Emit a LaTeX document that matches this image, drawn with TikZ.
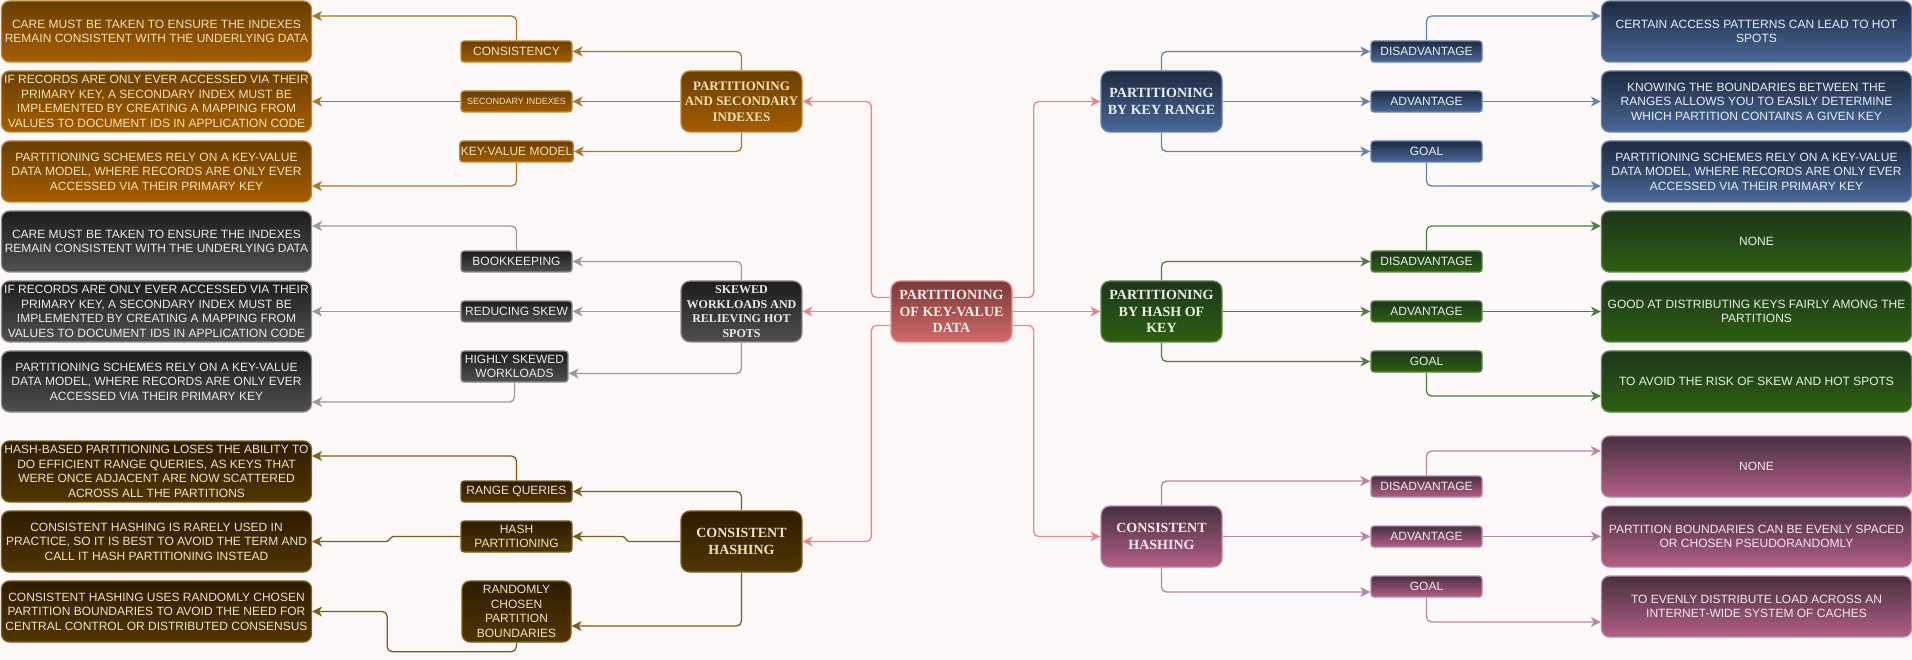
\documentclass[tikz,border=0pt]{standalone}
\usepackage{fontspec}
\setmainfont{Liberation Serif}
\setsansfont{Liberation Sans}
\usetikzlibrary{arrows.meta}
\usetikzlibrary{calc}
\definecolor{paper}{HTML}{FCF8F7}
\definecolor{redT}{HTML}{7A3838}\definecolor{redB}{HTML}{D26A6A}\definecolor{redE}{HTML}{E39090}\definecolor{redX}{HTML}{F8EEEE}\definecolor{redL}{HTML}{E08A8A}
\definecolor{brnT}{HTML}{693E00}\definecolor{brnB}{HTML}{A65D00}\definecolor{brnE}{HTML}{B98B38}\definecolor{brnX}{HTML}{F2E3B8}\definecolor{brnL}{HTML}{A8772A}
\definecolor{gryT}{HTML}{1C1C1C}\definecolor{gryB}{HTML}{505050}\definecolor{gryE}{HTML}{8E8E8E}\definecolor{gryX}{HTML}{EBEBEB}\definecolor{gryL}{HTML}{9A9A9A}
\definecolor{dkbT}{HTML}{2D1C00}\definecolor{dkbB}{HTML}{523600}\definecolor{dkbE}{HTML}{806218}\definecolor{dkbX}{HTML}{EEE4C4}\definecolor{dkbL}{HTML}{7A5E1A}
\definecolor{bluT}{HTML}{1E2A40}\definecolor{bluB}{HTML}{4A6898}\definecolor{bluE}{HTML}{6283B3}\definecolor{bluX}{HTML}{E9EEF6}\definecolor{bluL}{HTML}{6283B0}
\definecolor{grnT}{HTML}{1E351C}\definecolor{grnB}{HTML}{2C6010}\definecolor{grnE}{HTML}{5C8A48}\definecolor{grnX}{HTML}{E9F0E4}\definecolor{grnL}{HTML}{4F7F3F}
\definecolor{plmT}{HTML}{463040}\definecolor{plmB}{HTML}{B45E88}\definecolor{plmE}{HTML}{B889A8}\definecolor{plmX}{HTML}{F4E8EE}\definecolor{plmL}{HTML}{B485A5}
\tikzset{tint/.style={top color=#1T,bottom color=#1B,draw=#1E,text=#1X},
root/.style={rounded corners=9pt,line width=1.3pt,minimum width=121pt,minimum height=61pt,
align=center,inner sep=1pt,font=\rmfamily\bfseries\fontsize{14}{16.7}\selectfont},
tag/.style={rounded corners=3pt,line width=1.3pt,minimum width=111pt,minimum height=21pt,
align=center,inner sep=1pt,font=\sffamily\fontsize{12}{14.5}\selectfont},
leaf/.style={rounded corners=8pt,line width=1.3pt,minimum width=310pt,minimum height=61pt,
align=center,inner sep=1pt,font=\sffamily\fontsize{12}{14.5}\selectfont},
link/.style={draw=#1L,line width=1.3pt,rounded corners=5pt,->},
>={Stealth[length=10pt,width=10pt,inset=3pt]}}
\begin{document}
\begin{tikzpicture}[x=1pt,y=-1pt]
  \path[use as bounding box,fill=paper] (0,0) rectangle (1912,660);
  \node (hub) [root,tint=red] at (951.5,311.5) {PARTITIONING\\OF KEY-VALUE\\DATA};
  \node (pidx) [root,tint=brn,font=\rmfamily\bfseries\fontsize{13}{15.6}\selectfont] at (741.5,101.5) {PARTITIONING\\AND SECONDARY\\INDEXES};
  \node (skew) [root,tint=gry,font=\rmfamily\bfseries\fontsize{12}{14.4}\selectfont] at (741.5,311.5) {SKEWED\\WORKLOADS AND\\RELIEVING HOT\\SPOTS};
  \node (chl) [root,tint=dkb] at (741.5,541.5) {CONSISTENT\\HASHING};
  \node (krng) [root,tint=blu] at (1161.5,101.5) {PARTITIONING\\BY KEY RANGE};
  \node (hkey) [root,tint=grn] at (1161.5,311.5) {PARTITIONING\\BY HASH OF\\KEY};
  \node (chr) [root,tint=plm] at (1161.5,536.5) {CONSISTENT\\HASHING};

  \node (cons) [tag,tint=brn] at (516.5,51.5) {CONSISTENCY};
  \node (sidx) [tag,tint=brn,font=\sffamily\fontsize{9}{11}\selectfont] at (516.5,101.5) {SECONDARY INDEXES};
  \node (kvm) [tag,tint=brn] at (516.5,151.5) {KEY-VALUE MODEL};
  \node (book) [tag,tint=gry] at (516.5,261.5) {BOOKKEEPING};
  \node (rsk) [tag,tint=gry] at (516.5,311.5) {REDUCING SKEW};
  \node (hsw) [tag,tint=gry,minimum width=107pt,minimum height=31pt] at (514.5,366.5) {HIGHLY SKEWED\\WORKLOADS};
  \node (rq) [tag,tint=dkb] at (516.5,491.5) {RANGE QUERIES};
  \node (hp) [tag,tint=dkb,minimum height=31pt] at (516.5,536.5) {HASH\\PARTITIONING};
  \node (rcb) [tag,tint=dkb,minimum width=109pt,minimum height=61pt,rounded corners=8pt] at (516.5,611.5) {RANDOMLY\\CHOSEN\\PARTITION\\BOUNDARIES};

  \node (kdis) [tag,tint=blu] at (1426.5,51.5) {DISADVANTAGE};
  \node (kadv) [tag,tint=blu] at (1426.5,101.5) {ADVANTAGE};
  \node (kgol) [tag,tint=blu] at (1426.5,151.5) {GOAL};
  \node (hdis) [tag,tint=grn] at (1426.5,261.5) {DISADVANTAGE};
  \node (hadv) [tag,tint=grn] at (1426.5,311.5) {ADVANTAGE};
  \node (hgol) [tag,tint=grn] at (1426.5,361.5) {GOAL};
  \node (cdis) [tag,tint=plm] at (1426.5,486.5) {DISADVANTAGE};
  \node (cadv) [tag,tint=plm] at (1426.5,536.5) {ADVANTAGE};
  \node (cgol) [tag,tint=plm] at (1426.5,586.5) {GOAL};

  \node (consT) [leaf,tint=brn] at (156.5,31.5) {CARE MUST BE TAKEN TO ENSURE THE INDEXES\\REMAIN CONSISTENT WITH THE UNDERLYING DATA};
  \node (sidxT) [leaf,tint=brn] at (156.5,101.5) {IF RECORDS ARE ONLY EVER ACCESSED VIA THEIR\\PRIMARY KEY, A SECONDARY INDEX MUST BE\\IMPLEMENTED BY CREATING A MAPPING FROM\\VALUES TO DOCUMENT IDS IN APPLICATION CODE};
  \node (kvmT) [leaf,tint=brn] at (156.5,171.5) {PARTITIONING SCHEMES RELY ON A KEY-VALUE\\DATA MODEL, WHERE RECORDS ARE ONLY EVER\\ACCESSED VIA THEIR PRIMARY KEY};
  \node (bookT) [leaf,tint=gry] at (156.5,241.5) {CARE MUST BE TAKEN TO ENSURE THE INDEXES\\REMAIN CONSISTENT WITH THE UNDERLYING DATA};
  \node (rskT) [leaf,tint=gry] at (156.5,311.5) {IF RECORDS ARE ONLY EVER ACCESSED VIA THEIR\\PRIMARY KEY, A SECONDARY INDEX MUST BE\\IMPLEMENTED BY CREATING A MAPPING FROM\\VALUES TO DOCUMENT IDS IN APPLICATION CODE};
  \node (hswT) [leaf,tint=gry] at (156.5,381.5) {PARTITIONING SCHEMES RELY ON A KEY-VALUE\\DATA MODEL, WHERE RECORDS ARE ONLY EVER\\ACCESSED VIA THEIR PRIMARY KEY};
  \node (rqT) [leaf,tint=dkb] at (156.5,471.5) {HASH-BASED PARTITIONING LOSES THE ABILITY TO\\DO EFFICIENT RANGE QUERIES, AS KEYS THAT\\WERE ONCE ADJACENT ARE NOW SCATTERED\\ACROSS ALL THE PARTITIONS};
  \node (hpT) [leaf,tint=dkb] at (156.5,541.5) {CONSISTENT HASHING IS RARELY USED IN\\PRACTICE, SO IT IS BEST TO AVOID THE TERM AND\\CALL IT HASH PARTITIONING INSTEAD};
  \node (rcbT) [leaf,tint=dkb] at (156.5,611.5) {CONSISTENT HASHING USES RANDOMLY CHOSEN\\PARTITION BOUNDARIES TO AVOID THE NEED FOR\\CENTRAL CONTROL OR DISTRIBUTED CONSENSUS};

  \node (kdisT) [leaf,tint=blu] at (1756.5,31.5) {CERTAIN ACCESS PATTERNS CAN LEAD TO HOT\\SPOTS};
  \node (kadvT) [leaf,tint=blu] at (1756.5,101.5) {KNOWING THE BOUNDARIES BETWEEN THE\\RANGES ALLOWS YOU TO EASILY DETERMINE\\WHICH PARTITION CONTAINS A GIVEN KEY};
  \node (kgolT) [leaf,tint=blu] at (1756.5,171.5) {PARTITIONING SCHEMES RELY ON A KEY-VALUE\\DATA MODEL, WHERE RECORDS ARE ONLY EVER\\ACCESSED VIA THEIR PRIMARY KEY};
  \node (hdisT) [leaf,tint=grn] at (1756.5,241.5) {NONE};
  \node (hadvT) [leaf,tint=grn] at (1756.5,311.5) {GOOD AT DISTRIBUTING KEYS FAIRLY AMONG THE\\PARTITIONS};
  \node (hgolT) [leaf,tint=grn] at (1756.5,381.5) {TO AVOID THE RISK OF SKEW AND HOT SPOTS};
  \node (cdisT) [leaf,tint=plm] at (1756.5,466.5) {NONE};
  \node (cadvT) [leaf,tint=plm] at (1756.5,536.5) {PARTITION BOUNDARIES CAN BE EVENLY SPACED\\OR CHOSEN PSEUDORANDOMLY};
  \node (cgolT) [leaf,tint=plm] at (1756.5,606.5) {TO EVENLY DISTRIBUTE LOAD ACROSS AN\\INTERNET-WIDE SYSTEM OF CACHES};

  \draw [link=red] ([yshift=14pt]hub.west) -- ++(-19,0) |- (pidx.east);
  \draw [link=red] (hub.west) -- (skew.east);
  \draw [link=red] ([yshift=-14pt]hub.west) -- ++(-19,0) |- (chl.east);
  \draw [link=red] ([yshift=14pt]hub.east) -- ++(21,0) |- (krng.west);
  \draw [link=red] (hub.east) -- (hkey.west);
  \draw [link=red] ([yshift=-14pt]hub.east) -- ++(21,0) |- (chr.west);

  \draw [link=brn] (pidx.north) |- (cons.east);
  \draw [link=brn] (pidx.west) -- (sidx.east);
  \draw [link=brn] (pidx.south) |- (kvm.east);
  \draw [link=brn] (cons.north) |- ([yshift=15.5pt]consT.east);
  \draw [link=brn] (sidx.west) -- (sidxT.east);
  \draw [link=brn] (kvm.south) |- ([yshift=-14.5pt]kvmT.east);

  \draw [link=gry] (skew.north) |- (book.east);
  \draw [link=gry] (skew.west) -- (rsk.east);
  \draw [link=gry] (skew.south) |- ([yshift=-7pt]hsw.east);
  \draw [link=gry] (book.north) |- ([yshift=15.5pt]bookT.east);
  \draw [link=gry] (rsk.west) -- (rskT.east);
  \draw [link=gry] (hsw.south) |- ([yshift=-20.5pt]hswT.east);

  \draw [link=dkb] (chl.north) |- (rq.east);
  \draw [link=dkb,rounded corners=2.5pt] (chl.west) -- ++(-53,0) -- ++(-3,-5) -- (hp.east);
  \draw [link=dkb] (chl.south) |- ([yshift=-14.5pt]rcb.east);
  \draw [link=dkb] (rq.north) |- ([yshift=15.5pt]rqT.east);
  \draw [link=dkb,rounded corners=2.5pt] (hp.west) -- ++(-69,0) -- ++(-3,5) -- (hpT.east);
  \draw [link=dkb] (rcb.south) -- ++(0,9) -| ([xshift=75pt]rcbT.east) -- (rcbT.east);

  \draw [link=blu] (krng.north) |- (kdis.west);
  \draw [link=blu] (krng.east) -- (kadv.west);
  \draw [link=blu] (krng.south) |- (kgol.west);
  \draw [link=blu] (kdis.north) |- ([yshift=15.5pt]kdisT.west);
  \draw [link=blu] (kadv.east) -- (kadvT.west);
  \draw [link=blu] (kgol.south) |- ([yshift=-14.5pt]kgolT.west);

  \draw [link=grn] (hkey.north) |- (hdis.west);
  \draw [link=grn] (hkey.east) -- (hadv.west);
  \draw [link=grn] (hkey.south) |- (hgol.west);
  \draw [link=grn] (hdis.north) |- ([yshift=15.5pt]hdisT.west);
  \draw [link=grn] (hadv.east) -- (hadvT.west);
  \draw [link=grn] (hgol.south) |- ([yshift=-14.5pt]hgolT.west);

  \draw [link=plm] (chr.north) |- ([yshift=5.5pt]cdis.west);
  \draw [link=plm] (chr.east) -- (cadv.west);
  \draw [link=plm] (chr.south) |- ([yshift=-5.5pt]cgol.west);
  \draw [link=plm] (cdis.north) |- ([yshift=15.5pt]cdisT.west);
  \draw [link=plm] (cadv.east) -- (cadvT.west);
  \draw [link=plm] (cgol.south) |- ([yshift=-15.5pt]cgolT.west);
\end{tikzpicture}
\end{document}
